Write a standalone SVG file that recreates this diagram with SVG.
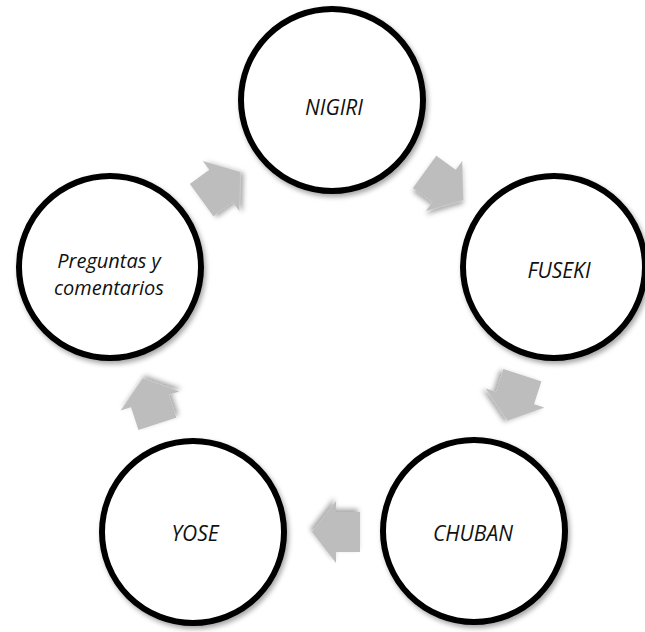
<svg xmlns="http://www.w3.org/2000/svg" width="645" height="632" viewBox="0 0 645 632">
  <defs>
    <filter id="soft-shadow" x="-20%" y="-20%" width="140%" height="140%">
      <feDropShadow dx="2" dy="3" stdDeviation="2.5" flood-color="#000" flood-opacity="0.35"/>
    </filter>
    <!-- block arrow pointing along +x, centred on the origin -->
    <path id="block-arrow" d="M-24,-20 L0,-20 L0,-31 L24,0 L0,31 L0,20 L-24,20 Z"/>
  </defs>
  <style>
    .stage { fill: #ffffff; stroke: #000000; stroke-width: 6; filter: url(#soft-shadow); }
    .label { font-family: "Open Sans", "Liberation Sans", sans-serif; font-style: italic; font-size: 21px; fill: #111111; text-anchor: middle; }
    .label-small { font-size: 20px; }
    .flow { fill: #bdbdbd; filter: url(#soft-shadow); }
  </style>

  <rect width="645" height="632" fill="#ffffff"/>

  <g id="connectors">
    <use href="#block-arrow" class="flow" transform="translate(221,186) rotate(-36)"/>
    <use href="#block-arrow" class="flow" transform="translate(444,186) rotate(36)"/>
    <use href="#block-arrow" class="flow" transform="translate(515,398) rotate(108)"/>
    <use href="#block-arrow" class="flow" transform="translate(336,532) rotate(180)"/>
    <use href="#block-arrow" class="flow" transform="translate(150,401) rotate(252)"/>
  </g>

  <g id="nigiri">
    <circle class="stage" cx="332" cy="100" r="91"/>
    <text class="label" x="334" y="115">NIGIRI</text>
  </g>

  <g id="fuseki">
    <circle class="stage" cx="554" cy="267" r="91"/>
    <text class="label" x="559" y="278">FUSEKI</text>
  </g>

  <g id="chuban">
    <circle class="stage" cx="474" cy="531" r="91"/>
    <text class="label" x="473" y="541">CHUBAN</text>
  </g>

  <g id="yose">
    <circle class="stage" cx="193" cy="532" r="91"/>
    <text class="label" x="195" y="541">YOSE</text>
  </g>

  <g id="preguntas">
    <circle class="stage" cx="110" cy="267" r="91"/>
    <text class="label label-small" x="109" y="268">Preguntas y</text>
    <text class="label label-small" x="109" y="295">comentarios</text>
  </g>
</svg>
